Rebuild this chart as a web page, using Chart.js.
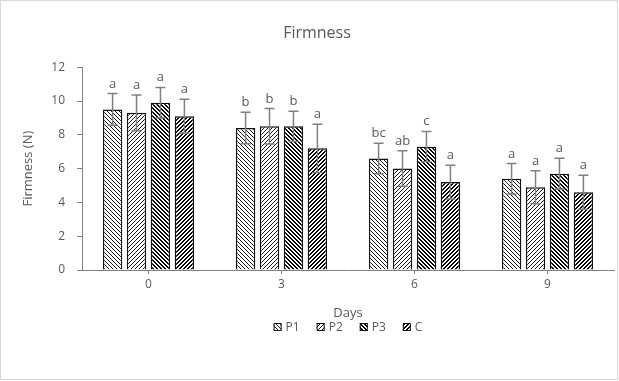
<!DOCTYPE html>
<html>
<head>
<meta charset="utf-8">
<script src="https://cdn.jsdelivr.net/npm/chart.js@4.4.1/dist/chart.umd.min.js"></script>
<style>
html,body{margin:0;padding:0;background:#fff;}
canvas{display:block;}
</style>
</head>
<body>
<canvas id="c" width="619" height="381"></canvas>
<script>
// ---- data ----
const days = ['0', '3', '6', '9'];
const seriesNames = ['P1', 'P2', 'P3', 'C'];
const p1 = [9.5, 8.4, 6.6, 5.4];
const p2 = [9.3, 8.5, 6.0, 4.9];
const p3 = [9.9, 8.5, 7.3, 5.7];
const cc = [9.1, 7.2, 5.2, 4.6];
const p1Err = [0.94, 0.93, 0.9, 0.9];
const p2Err = [1.06, 1.05, 1.05, 0.98];
const p3Err = [0.9, 0.89, 0.9, 0.91];
const ccErr = [1.0, 1.43, 1.0, 1.0];
const p1Letters = ['a', 'b', 'bc', 'a'];
const p2Letters = ['a', 'b', 'ab', 'a'];
const p3Letters = ['a', 'b', 'c', 'a'];
const ccLetters = ['a', 'a', 'a', 'a'];
const yTicks = [0, 2, 4, 6, 8, 10, 12];

const FONT = '"Open Sans", "Liberation Sans", sans-serif';
const TXT = '#595959';
Chart.defaults.font.family = FONT;

function makePattern(dir, dark) {
  const s = 4;
  const t = document.createElement('canvas');
  t.width = s; t.height = s;
  const g = t.getContext('2d');
  g.fillStyle = '#fff';
  g.fillRect(0, 0, s, s);
  g.fillStyle = dark ? '#000' : '#1a1a1a';
  for (let y = 0; y < s; y++) {
    const x0 = dir === 'down' ? y % s : (s - 1 - y + s) % s;
    g.fillRect(x0, y, 1, 1);
    if (dark) g.fillRect((x0 + 1) % s, y, 1, 1);
  }
  return g.createPattern(t, 'repeat');
}

const values = [p1, p2, p3, cc];
const errs = [p1Err, p2Err, p3Err, ccErr];
const letters = [p1Letters, p2Letters, p3Letters, ccLetters];
const fills = [makePattern('down', false), makePattern('up', false), makePattern('down', true), makePattern('up', true)];

const datasets = seriesNames.map((n, i) => ({
  label: n,
  data: values[i],
  backgroundColor: fills[i],
  borderColor: '#111',
  borderWidth: 1.5,
  categoryPercentage: 0.72,
  barPercentage: 0.81
}));

const errPlugin = {
  id: 'errbars',
  afterDatasetsDraw(chart) {
    const ctx = chart.ctx;
    const ys = chart.scales.y;
    chart.data.datasets.forEach((ds, i) => {
      const meta = chart.getDatasetMeta(i);
      meta.data.forEach((bar, j) => {
        const v = values[i][j], e = errs[i][j];
        const x = bar.x;
        const yt = ys.getPixelForValue(v + e);
        const yb = ys.getPixelForValue(v - e);
        ctx.save();
        ctx.strokeStyle = '#808080';
        ctx.lineWidth = 1.5;
        ctx.beginPath();
        ctx.moveTo(x, yt); ctx.lineTo(x, yb);
        ctx.moveTo(x - 5, yt); ctx.lineTo(x + 5, yt);
        ctx.moveTo(x - 5, yb); ctx.lineTo(x + 5, yb);
        ctx.stroke();
        ctx.fillStyle = TXT;
        ctx.font = '13px ' + FONT;
        ctx.textAlign = 'center';
        ctx.textBaseline = 'alphabetic';
        ctx.fillText(letters[i][j], x, yt - 6);
        ctx.restore();
      });
    });
  }
};

const legendPlugin = {
  id: 'patLegend',
  afterDraw(chart) {
    const ctx = chart.ctx;
    const a = chart.chartArea;
    ctx.save();
    ctx.font = '12px ' + FONT;
    const box = 8, gap = 4, spacing = 17;
    const widths = chart.data.datasets.map(ds => box + gap + ctx.measureText(ds.label).width);
    const total = widths.reduce((s, w) => s + w, 0) + spacing * (widths.length - 1);
    let x = (a.left + a.right) / 2 - total / 2;
    const yc = a.bottom + 57;
    chart.data.datasets.forEach((ds, i) => {
      ctx.fillStyle = ds.backgroundColor;
      ctx.fillRect(x, yc - box / 2, box, box);
      ctx.strokeStyle = '#111';
      ctx.lineWidth = 1;
      ctx.strokeRect(x + 0.5, yc - box / 2 + 0.5, box - 1, box - 1);
      ctx.fillStyle = TXT;
      ctx.textAlign = 'left';
      ctx.textBaseline = 'middle';
      ctx.fillText(ds.label, x + box + gap, yc + 1);
      x += widths[i] + spacing;
    });
    ctx.restore();
  }
};

const framePlugin = {
  id: 'frame',
  beforeDraw(chart) {
    const ctx = chart.ctx;
    ctx.save();
    ctx.fillStyle = '#fff';
    ctx.fillRect(0, 0, chart.width, chart.height);
    ctx.strokeStyle = '#d9d9d9';
    ctx.lineWidth = 1;
    ctx.strokeRect(0.5, 0.5, chart.width - 2, chart.height - 2);
    ctx.restore();
  }
};

new Chart(document.getElementById('c'), {
  type: 'bar',
  data: { labels: days, datasets },
  options: {
    responsive: false,
    animation: false,
    layout: { padding: { left: 20, right: 5, top: 0, bottom: 60 } },
    plugins: {
      title: {
        display: true, text: 'Firmness', color: TXT,
        font: { family: FONT, size: 16, weight: 'normal' },
        padding: { top: 24, bottom: 24 }
      },
      legend: { display: false },
      tooltip: { enabled: false }
    },
    scales: {
      x: {
        grid: { display: true, drawOnChartArea: false, offset: false, color: '#808080', tickLength: 4 },
        border: { color: '#808080', width: 1 },
        ticks: { color: TXT, font: { size: 12 }, padding: 3 },
        title: { display: true, text: 'Days', color: TXT, font: { size: 13 }, padding: { top: 11, bottom: 0 } }
      },
      y: {
        min: 0, max: 12,
        afterBuildTicks(s) { s.ticks = yTicks.map(v => ({ value: v })); },
        afterFit(s) { s.width = 62; },
        grid: { display: true, drawOnChartArea: false, color: '#808080', tickLength: 5 },
        border: { color: '#808080', width: 1 },
        ticks: { color: TXT, font: { size: 12 }, padding: 12 },
        title: { display: true, text: 'Firmness (N)', color: TXT, font: { size: 13 }, padding: { top: 0, bottom: 0 } }
      }
    }
  },
  plugins: [framePlugin, errPlugin, legendPlugin]
});
</script>
</body>
</html>
